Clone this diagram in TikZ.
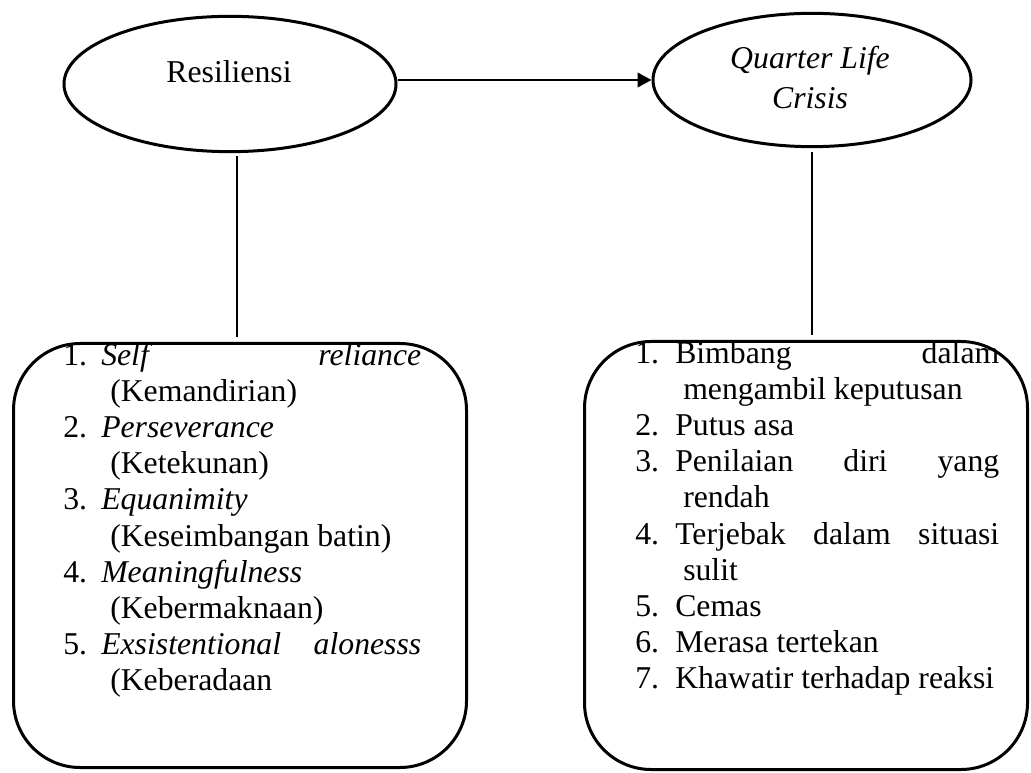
\documentclass[tikz,border=0pt]{standalone}
\usepackage{fontspec}
\setmainfont{Liberation Serif}
\usetikzlibrary{shapes.geometric, arrows.meta}
\tikzstyle{konsep} = [draw, ellipse, line width=2.25pt, inner sep=0pt]
\tikzstyle{kotak} = [draw, rectangle, rounded corners=50pt, line width=2.25pt, inner sep=0pt]
\tikzstyle{judul} = [font=\fontsize{23.8}{30}\selectfont, inner sep=0pt]
\tikzstyle{daftar} = [font=\fontsize{23.8}{27.1}\selectfont, inner sep=0pt,
    anchor=north west, align=justify]
\tikzstyle{garis} = [line width=1.6pt]
\tikzstyle{panah} = [line width=1.5pt, -{Triangle[length=10.5pt,width=11pt]}]
\newlength\labw
\newlength\contw
\newcommand{\butir}[2]{\par\noindent\strut\hangindent=\contw\hangafter=1
    \makebox[\labw][l]{#1}#2}

\begin{document}
\begin{tikzpicture}[x=0.75pt, y=-0.75pt]
\useasboundingbox (0,0) rectangle (1031,773);

\node[konsep, minimum width=249pt, minimum height=101.5pt] (res) at (230,84) {};
\node[judul, anchor=base] (resteks) at (229,83) {Resiliensi};

\node[konsep, minimum width=238.5pt, minimum height=100pt] (qlc) at (812,80) {};
\node[judul, anchor=north, align=center] (qlcteks) at (810,40)
    {\strut\textit{Quarter Life}\\\textit{Crisis}};

\node[kotak, minimum width=339.75pt, minimum height=318pt] (aspekres) at (240,555.5) {};
\node[daftar, text width=268.5pt] (listres) at (63,329) {%
    \setlength\parskip{0pt}\setlength\labw{28.5pt}\setlength\contw{35.25pt}%
    \butir{1.}{\textit{Self}\hfill\textit{reliance}\newline (Kemandirian)}
    \butir{2.}{\textit{Perseverance}\newline (Ketekunan)}
    \butir{3.}{\textit{Equanimity}\newline (Keseimbangan batin)}
    \butir{4.}{\textit{Meaningfulness}\newline (Kebermaknaan)}
    \butir{5.}{\textit{Exsistentional}\hfill\textit{alonesss}\newline (Keberadaan}\par
};

\node[kotak, minimum width=332.25pt, minimum height=321pt] (gejala) at (806,555.5) {};
\node[daftar, text width=273pt] (listqlc) at (635,327) {%
    \setlength\parskip{0pt}\setlength\labw{30pt}\setlength\contw{36pt}%
    \butir{1.}{Bimbang\hfill dalam\newline mengambil keputusan}
    \butir{2.}{Putus asa}
    \butir{3.}{Penilaian\hfill diri\hfill yang\newline rendah}
    \butir{4.}{Terjebak\hfill dalam\hfill situasi\newline sulit}
    \butir{5.}{Cemas}
    \butir{6.}{Merasa tertekan}
    \butir{7.}{Khawatir terhadap reaksi}\par
};

\draw[panah] (res.east |- qlc.west) -- (qlc.west);
\draw[garis, shorten <=2pt, shorten >=3.75pt] ([xshift=5.25pt]res.south)
    -- ([xshift=5.25pt]res.south |- aspekres.north);
\draw[garis, shorten <=3pt, shorten >=3.75pt] (qlc.south) -- (qlc.south |- gejala.north);
\end{tikzpicture}
\end{document}
